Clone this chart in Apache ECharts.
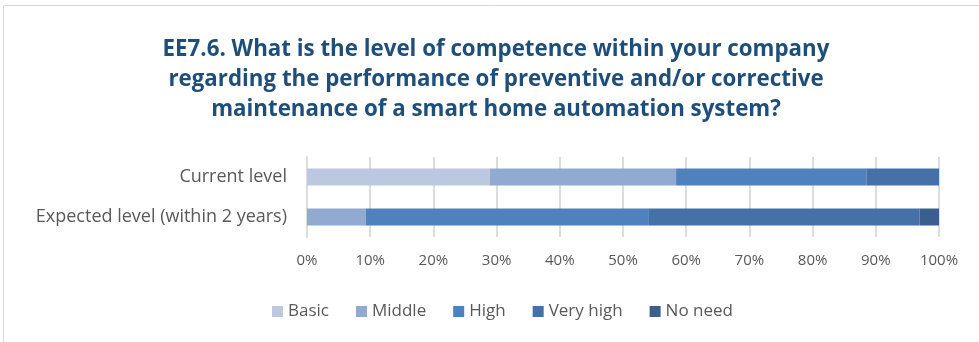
<!DOCTYPE html>
<html>
<head>
    <meta charset="utf-8">
    <title>EE7.6 competence level</title>
    <script src="https://cdn.jsdelivr.net/npm/echarts@6/dist/echarts.min.js"></script>
    <style>
        body { margin: 0; background: #fff; }
        #main { width: 979px; height: 342px; }
    </style>
</head>
<body>
<div id="main"></div>
<script type="text/javascript">
// data (percent of answers)
var categories = ['Current level', 'Expected level (within 2 years)'];
var seriesNames = ['Basic', 'Middle', 'High', 'Very high', 'No need'];
var basicVals = [28.9, 0];
var middleVals = [29.5, 9.3];
var highVals = [30.1, 44.8];
var veryHighVals = [11.5, 42.8];
var noNeedVals = [0, 3.1];
var tickLabels = ['0%', '10%', '20%', '30%', '40%', '50%', '60%', '70%', '80%', '90%', '100%'];

var colors = ['#BCC8E0', '#91AAD1', '#4F81BD', '#4571A7', '#3A5E8E'];
var font = '"Open Sans", sans-serif';

var myChart = echarts.init(document.getElementById('main'));

var allVals = [basicVals, middleVals, highVals, veryHighVals, noNeedVals];
var series = seriesNames.map(function (n, i) {
    return {
        name: n,
        type: 'bar',
        stack: 'total',
        barWidth: 17,
        itemStyle: { color: colors[i] },
        data: allVals[i]
    };
});

var option = {
    animation: false,
    color: colors,
    title: {
        text: 'EE7.6. What is the level of competence within your company\nregarding the performance of preventive and/or corrective\nmaintenance of a smart home automation system?',
        left: 491,
        textAlign: 'center',
        top: 30,
        textStyle: {
            fontFamily: font,
            fontWeight: 'bold',
            fontSize: 22.3,
            lineHeight: 30,
            color: '#1F4E79'
        }
    },
    legend: {
        data: seriesNames,
        left: 267,
        top: 298,
        itemWidth: 11,
        itemHeight: 11,
        itemGap: 27,
        icon: 'rect',
        textStyle: { fontFamily: font, fontSize: 17, color: '#595959' }
    },
    grid: { left: 307, right: 40, top: 157, bottom: 105 },
    xAxis: {
        type: 'value',
        min: 0,
        max: 100,
        interval: 10,
        axisLine: { show: false },
        axisTick: { show: false },
        splitLine: { lineStyle: { color: '#DDDDDD', width: 2 } },
        axisLabel: {
            margin: 16,
            fontFamily: font,
            fontSize: 15,
            color: '#595959',
            formatter: function (v) { return tickLabels[Math.round(v / 10)]; }
        }
    },
    yAxis: {
        type: 'category',
        inverse: true,
        data: categories,
        axisLine: { show: true, lineStyle: { color: '#DDDDDD', width: 2 } },
        axisTick: { show: false },
        axisLabel: {
            margin: 20,
            fontFamily: font,
            fontSize: 18,
            color: '#595959'
        }
    },
    graphic: [{
        type: 'rect',
        shape: { x: 3.5, y: 5.5, width: 1100, height: 500 },
        style: { fill: 'none', stroke: '#D9D9D9', lineWidth: 1 },
        silent: true
    }],
    series: series
};

myChart.setOption(option);
</script>
</body>
</html>
